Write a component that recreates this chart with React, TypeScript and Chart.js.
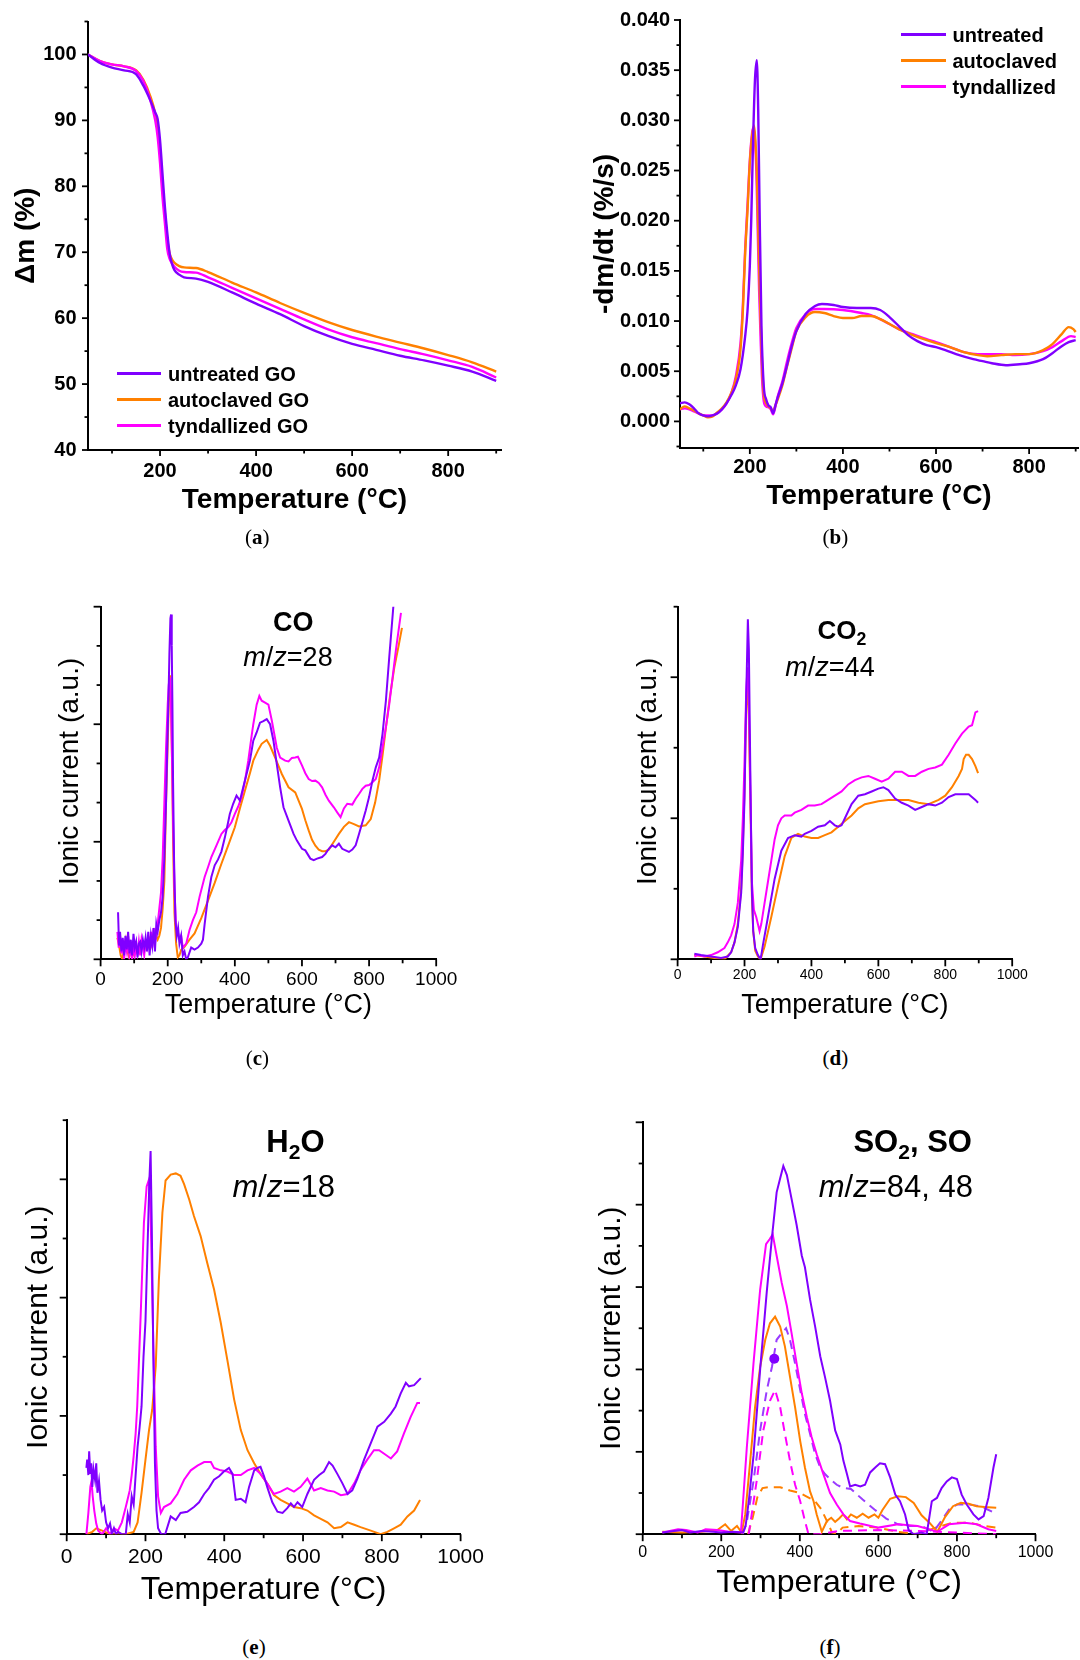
import React, { useEffect, useRef } from "react";
import { Chart, registerables } from "chart.js";
Chart.register(...registerables);

const PURPLE = "#8000ff";
const ORANGE = "#ff8000";
const MAGENTA = "#ff00ff";
const SANS = "'Liberation Sans', Arial, Helvetica, sans-serif";
const SERIF = "'Liberation Serif', 'Times New Roman', serif";

// ---------- (a) TGA ----------
const tgaTemp = [50, 75, 100, 125, 150, 165, 180, 190, 195, 200, 205, 210, 215, 220, 225, 230, 240, 250, 275, 300, 350, 400, 450, 500, 550, 600, 650, 700, 750, 800, 850, 900];
const tgaUntreated = [100, 98.7, 98.0, 97.6, 97.0, 95.3, 93.0, 91.2, 90.2, 87.0, 82.0, 77.0, 73.0, 69.8, 68.2, 67.3, 66.6, 66.2, 66.0, 65.5, 63.9, 62.2, 60.6, 58.8, 57.3, 56.1, 55.2, 54.3, 53.6, 52.8, 51.9, 50.5];
const tgaAutoclaved = [100, 99.0, 98.5, 98.2, 97.6, 96.2, 93.6, 91.0, 88.5, 85.0, 80.0, 76.0, 72.0, 69.8, 68.9, 68.4, 67.9, 67.7, 67.6, 67.0, 65.4, 63.9, 62.3, 60.8, 59.4, 58.2, 57.2, 56.3, 55.4, 54.4, 53.3, 51.9];
const tgaTyndallized = [100, 99.0, 98.5, 98.2, 97.5, 96.0, 93.0, 90.0, 87.5, 83.5, 78.5, 74.5, 70.5, 69.0, 68.3, 67.8, 67.2, 67.0, 66.9, 66.2, 64.6, 63.0, 61.4, 59.8, 58.3, 57.1, 56.2, 55.3, 54.5, 53.6, 52.6, 51.0];
const tgaLegend = ["untreated GO", "autoclaved GO", "tyndallized GO"];

// ---------- (b) DTG ----------
const dtgUntreated = [[50,0.0018],[60,0.0019],[70,0.0017],[80,0.0013],[90,0.0008],[100,0.0006],[110,0.0005],[120,0.0006],[130,0.0008],[140,0.0012],[150,0.0018],[160,0.0026],[170,0.0036],[180,0.0052],[190,0.0085],[195,0.011],[200,0.0155],[203,0.02],[207,0.028],[211,0.034],[215,0.036],[218,0.031],[221,0.021],[225,0.0095],[230,0.0035],[235,0.0022],[240,0.0016],[245,0.0014],[250,0.0008],[255,0.0016],[260,0.0024],[270,0.0038],[280,0.0056],[290,0.0075],[300,0.009],[320,0.0107],[340,0.0115],[355,0.0117],[380,0.0116],[400,0.0114],[430,0.0113],[460,0.0113],[480,0.0111],[500,0.0104],[520,0.0095],[540,0.0086],[560,0.008],[580,0.0076],[600,0.0074],[620,0.0071],[650,0.0066],[680,0.0062],[700,0.006],[720,0.0058],[750,0.0056],[780,0.0057],[800,0.0058],[830,0.0062],[850,0.0068],[870,0.0075],[885,0.0079],[900,0.0081]];
const dtgAutoclaved = [[50,0.0012],[60,0.0015],[70,0.0013],[80,0.0011],[90,0.0008],[100,0.0006],[110,0.0004],[120,0.0005],[130,0.0009],[140,0.0013],[150,0.0019],[160,0.0028],[170,0.0042],[180,0.0072],[185,0.011],[190,0.0168],[195,0.021],[200,0.0258],[205,0.0285],[209,0.0295],[212,0.028],[215,0.025],[218,0.019],[221,0.0135],[224,0.009],[227,0.005],[230,0.0027],[235,0.0018],[240,0.0015],[245,0.0013],[250,0.001],[255,0.0016],[260,0.0022],[270,0.0036],[280,0.0055],[290,0.0073],[300,0.009],[320,0.0104],[340,0.0109],[360,0.0108],[380,0.0105],[400,0.0103],[420,0.0103],[440,0.0105],[460,0.0105],[480,0.0102],[500,0.0097],[520,0.0092],[550,0.0086],[580,0.0081],[600,0.0078],[630,0.0074],[660,0.0069],[690,0.0066],[710,0.0065],[740,0.0066],[770,0.0067],[800,0.0067],[830,0.0071],[850,0.0077],[870,0.0087],[885,0.0094],[895,0.0092],[900,0.0089]];
const dtgTyndallized = [[50,0.0012],[60,0.0013],[70,0.0012],[80,0.001],[90,0.0008],[100,0.0006],[120,0.0006],[140,0.0012],[150,0.0018],[160,0.0028],[170,0.0045],[180,0.0078],[185,0.0115],[190,0.0172],[195,0.0215],[200,0.026],[205,0.0288],[208,0.0293],[211,0.028],[214,0.025],[217,0.019],[220,0.013],[223,0.0085],[226,0.0045],[230,0.002],[235,0.0015],[240,0.0014],[245,0.0012],[250,0.0007],[255,0.0015],[260,0.0025],[270,0.004],[280,0.006],[290,0.0078],[300,0.0093],[320,0.0107],[340,0.0112],[360,0.0112],[400,0.0111],[440,0.0108],[460,0.0106],[480,0.0102],[500,0.0097],[520,0.0092],[550,0.0087],[580,0.0082],[600,0.0079],[630,0.0074],[660,0.0069],[690,0.0067],[710,0.0067],[740,0.0067],[770,0.0066],[800,0.0067],[830,0.007],[850,0.0074],[870,0.008],[890,0.0085],[900,0.0084]];
const dtgLegend = ["untreated", "autoclaved", "tyndallized"];

// ---------- (c) CO, m/z = 28 ----------
const coUntreated = [[52,1.2],[55,0.35],[58,0.7],[62,0.2],[66,0.55],[70,0.1],[74,0.6],[78,0.25],[82,0.7],[86,0.15],[90,0.5],[94,0.1],[98,0.65],[102,0.3],[106,0.45],[110,0.05],[114,0.4],[118,0.45],[122,0.2],[126,0.5],[130,0.3],[134,0.55],[138,0.2],[142,0.7],[146,0.1],[150,0.6],[154,0.35],[158,0.8],[162,0.2],[166,0.9],[170,0.7],[175,1.0],[180,1.2],[185,1.6],[190,2.6],[195,4.0],[199,5.5],[202,6.5],[205,7.8],[208,8.7],[210,8.8],[212,8.0],[214,6.5],[216,4.5],[219,2.5],[223,1.0],[227,0.6],[231,0.8],[235,0.4],[240,0.6],[245,0.1],[250,0.2],[255,0.0],[260,0.05],[270,0.3],[280,0.25],[290,0.3],[300,0.4],[305,0.5],[310,0.9],[320,1.6],[330,2.1],[340,2.4],[350,2.55],[360,2.75],[370,3.1],[380,3.5],[385,3.71],[395,3.97],[405,4.18],[415,4.05],[425,4.39],[435,4.73],[445,5.07],[455,5.58],[465,5.79],[475,6.04],[485,6.08],[495,6.13],[505,6.0],[515,5.58],[525,4.98],[535,4.39],[545,3.88],[560,3.54],[575,3.2],[585,3.03],[600,2.82],[610,2.78],[625,2.57],[635,2.53],[645,2.57],[660,2.61],[670,2.69],[680,2.82],[690,2.91],[700,2.86],[710,2.95],[720,2.82],[730,2.78],[740,2.74],[750,2.8],[760,2.91],[770,3.2],[780,3.5],[790,3.8],[800,4.14],[810,4.56],[820,4.9],[830,5.15],[840,5.75],[850,6.59],[860,7.7],[872,8.97],[880,9.8]];
const coAutoclaved = [[50,0.55],[55,0.35],[60,0.1],[65,0.0],[70,0.3],[75,0.5],[80,0.2],[85,0.05],[90,0.35],[95,0.2],[100,0.1],[105,0.3],[110,0.15],[115,0.35],[120,0.25],[125,0.4],[130,0.2],[135,0.45],[140,0.3],[145,0.5],[150,0.35],[155,0.55],[160,0.45],[165,0.6],[170,0.5],[175,0.6],[180,0.8],[185,1.3],[190,2.0],[195,4.0],[200,5.5],[204,6.8],[207,7.25],[210,6.5],[213,5.0],[216,3.0],[220,1.2],[225,0.4],[230,0.05],[235,0.1],[240,0.24],[250,0.32],[265,0.5],[280,0.66],[300,1.05],[320,1.5],[340,1.95],[360,2.44],[380,2.9],[400,3.37],[415,3.85],[430,4.3],[445,4.75],[455,5.07],[470,5.35],[480,5.5],[495,5.6],[505,5.45],[520,5.15],[540,4.73],[560,4.39],[580,4.26],[590,4.05],[600,3.84],[610,3.55],[620,3.29],[630,3.05],[640,2.9],[650,2.8],[660,2.76],[670,2.76],[680,2.8],[695,3.0],[710,3.2],[725,3.38],[740,3.5],[755,3.45],[770,3.39],[790,3.42],[805,3.58],[818,4.0],[830,4.56],[840,5.2],[850,5.9],[862,6.7],[875,7.44],[888,8.0],[898,8.46]];
const coTyndallized = [[50,0.7],[54,0.3],[58,0.6],[62,0.15],[66,0.5],[70,0.0],[74,0.4],[78,0.2],[82,0.6],[86,0.1],[90,0.3],[94,0.0],[98,0.4],[102,0.1],[106,0.35],[110,0.15],[114,0.45],[118,0.1],[122,0.5],[126,0.3],[130,0.1],[134,0.45],[138,0.3],[142,0.55],[146,0.35],[150,0.7],[154,0.3],[158,0.8],[162,0.4],[166,0.7],[170,0.9],[175,1.3],[180,1.7],[185,2.6],[190,4.0],[195,5.4],[200,6.5],[203,7.0],[206,7.2],[209,6.8],[212,5.5],[216,3.5],[220,1.8],[225,0.8],[230,0.7],[235,0.5],[240,0.6],[245,0.3],[250,0.35],[255,0.4],[265,0.75],[275,1.0],[285,1.2],[295,1.6],[310,2.1],[320,2.35],[330,2.61],[345,2.9],[360,3.2],[370,3.3],[380,3.37],[390,3.5],[400,3.71],[410,3.9],[420,4.14],[430,4.55],[440,5.07],[450,5.7],[455,6.0],[465,6.5],[473,6.72],[480,6.6],[490,6.55],[500,6.5],[510,6.1],[525,5.4],[535,5.15],[550,5.07],[560,5.05],[570,5.14],[580,5.15],[588,5.17],[600,4.95],[610,4.75],[620,4.6],[630,4.55],[640,4.56],[650,4.5],[660,4.39],[670,4.2],[680,4.05],[695,3.88],[705,3.75],[715,3.63],[725,3.85],[735,3.97],[750,3.95],[760,4.1],[770,4.22],[780,4.35],[790,4.43],[800,4.45],[810,4.52],[820,4.6],[830,4.9],[840,5.4],[850,5.92],[860,6.5],[870,7.19],[880,7.9],[895,8.84]];

// ---------- (d) CO2, m/z = 44 ----------
const co2Untreated = [[50,0.04],[70,0.03],[100,0.02],[130,0.01],[150,0.02],[160,0.05],[170,0.12],[180,0.23],[190,0.47],[195,0.75],[200,1.14],[205,1.85],[210,2.41],[213,2.2],[216,1.6],[219,1.0],[222,0.5],[226,0.2],[232,0.08],[240,0.03],[248,0.0],[255,0.1],[270,0.3],[290,0.57],[310,0.77],[330,0.86],[350,0.88],[370,0.87],[380,0.89],[400,0.91],[420,0.94],[440,0.95],[455,0.98],[470,0.95],[480,0.94],[490,0.95],[500,1.0],[520,1.1],[540,1.16],[560,1.17],[580,1.19],[600,1.21],[615,1.22],[630,1.2],[650,1.14],[670,1.11],[690,1.09],[710,1.06],[730,1.08],[750,1.1],[770,1.09],[790,1.11],[810,1.15],[830,1.17],[850,1.17],[870,1.17],[890,1.13],[898,1.11]];
const co2Autoclaved = [[50,0.03],[80,0.02],[110,0.01],[140,0.0],[160,0.05],[170,0.12],[180,0.25],[190,0.5],[195,0.8],[200,1.2],[205,1.8],[209,1.94],[213,1.7],[216,1.3],[219,0.9],[222,0.45],[226,0.2],[232,0.06],[240,0.02],[248,0.0],[260,0.09],[280,0.3],[300,0.52],[320,0.73],[340,0.86],[360,0.89],[380,0.87],[400,0.86],[420,0.86],[440,0.88],[460,0.9],[480,0.94],[500,0.98],[520,1.02],[540,1.07],[560,1.1],[600,1.12],[630,1.13],[660,1.13],[690,1.13],[720,1.11],[750,1.1],[780,1.13],[800,1.16],[820,1.22],[840,1.3],[850,1.35],[855,1.42],[862,1.45],[870,1.45],[880,1.42],[890,1.37],[898,1.32]];
const co2Tyndallized = [[50,0.02],[60,0.03],[80,0.02],[100,0.03],[120,0.05],[140,0.08],[150,0.12],[160,0.17],[170,0.25],[180,0.4],[190,0.7],[195,1.0],[200,1.4],[205,1.9],[209,2.07],[213,1.8],[216,1.4],[219,1.0],[222,0.55],[228,0.35],[235,0.3],[245,0.2],[250,0.25],[260,0.4],[270,0.55],[280,0.7],[290,0.85],[300,0.95],[310,1.0],[320,1.02],[340,1.02],[350,1.04],[370,1.06],[390,1.09],[410,1.09],[430,1.1],[450,1.13],[470,1.16],[490,1.19],[510,1.24],[530,1.27],[550,1.29],[570,1.3],[590,1.28],[610,1.26],[630,1.28],[650,1.33],[670,1.33],[690,1.3],[710,1.3],[730,1.33],[750,1.35],[770,1.36],[790,1.38],[810,1.45],[830,1.53],[850,1.6],[870,1.65],[880,1.66],[890,1.75],[898,1.76]];

// ---------- (e) H2O, m/z = 18 ----------
const h2oUntreated = [[50,0.56],[52,0.63],[55,0.5],[57,0.7],[60,0.51],[62,0.6],[65,0.4],[68,0.55],[72,0.46],[75,0.6],[78,0.35],[82,0.45],[86,0.29],[90,0.2],[95,0.23],[100,0.1],[105,0.05],[110,0.09],[115,0.0],[120,0.05],[125,0.0],[130,0.02],[140,0.0],[150,0.0],[155,0.17],[160,0.1],[165,0.32],[170,0.25],[175,0.5],[180,0.74],[185,0.9],[190,1.08],[195,1.5],[200,1.8],[205,2.4],[210,3.0],[213,3.24],[216,2.6],[220,1.5],[224,0.6],[228,0.2],[232,0.05],[240,0.0],[250,0.0],[264,0.15],[277,0.12],[289,0.18],[306,0.19],[323,0.23],[336,0.27],[349,0.34],[361,0.39],[374,0.46],[387,0.49],[399,0.53],[412,0.56],[421,0.51],[429,0.29],[442,0.3],[454,0.27],[463,0.4],[476,0.54],[484,0.56],[492,0.57],[501,0.49],[509,0.4],[522,0.27],[535,0.19],[548,0.18],[560,0.22],[569,0.26],[577,0.23],[586,0.27],[598,0.23],[611,0.34],[628,0.46],[641,0.5],[653,0.53],[666,0.61],[675,0.58],[687,0.51],[700,0.43],[713,0.34],[725,0.37],[738,0.47],[755,0.63],[772,0.77],[789,0.91],[806,0.95],[823,1.02],[835,1.08],[848,1.19],[861,1.28],[869,1.25],[882,1.26],[899,1.32]];
const h2oAutoclaved = [[50,0.0],[65,0.02],[75,0.05],[90,0.03],[110,0.0],[150,0.0],[170,0.02],[180,0.1],[190,0.35],[200,0.63],[209,0.88],[217,1.05],[226,1.42],[234,2.15],[243,2.72],[251,2.99],[264,3.04],[277,3.05],[289,3.03],[298,2.96],[311,2.83],[323,2.69],[340,2.52],[357,2.29],[374,2.07],[391,1.79],[408,1.47],[425,1.14],[442,0.88],[459,0.71],[476,0.6],[492,0.51],[509,0.43],[526,0.33],[543,0.29],[560,0.26],[577,0.23],[594,0.22],[611,0.2],[628,0.16],[645,0.13],[662,0.1],[679,0.05],[696,0.06],[713,0.1],[730,0.08],[746,0.06],[772,0.03],[797,0.0],[814,0.02],[831,0.05],[848,0.08],[865,0.15],[882,0.2],[897,0.29]];
const h2oTyndallized = [[50,0.0],[55,0.18],[60,0.4],[63,0.45],[66,0.32],[70,0.2],[75,0.09],[80,0.03],[90,0.0],[100,0.05],[110,0.0],[120,0.05],[130,0.03],[140,0.1],[150,0.23],[155,0.3],[160,0.37],[165,0.5],[170,0.66],[175,0.85],[179,1.08],[188,1.87],[196,2.63],[203,2.94],[209,3.0],[213,2.7],[220,1.59],[226,0.74],[232,0.32],[239,0.18],[247,0.23],[264,0.26],[281,0.34],[298,0.46],[315,0.54],[332,0.58],[349,0.61],[366,0.61],[374,0.56],[391,0.54],[408,0.53],[425,0.5],[442,0.5],[459,0.54],[476,0.56],[492,0.51],[509,0.43],[526,0.34],[543,0.36],[560,0.39],[577,0.36],[594,0.4],[611,0.47],[628,0.37],[645,0.39],[662,0.37],[679,0.36],[696,0.33],[713,0.34],[730,0.43],[746,0.54],[763,0.63],[780,0.71],[793,0.71],[806,0.68],[823,0.64],[839,0.7],[856,0.85],[873,0.99],[890,1.11],[897,1.11]];

// ---------- (f) SO2 (m/z = 84, solid) and SO (m/z = 48, dashed) ----------
const so2Untreated = [[50,0.02],[80,0.04],[100,0.05],[120,0.02],[150,0.04],[180,0.03],[200,0.02],[230,0.03],[255,0.02],[262,0.1],[270,0.4],[282,0.95],[299,2.0],[316,2.95],[329,3.6],[341,4.15],[350,4.32],[358,4.47],[367,4.36],[379,4.07],[392,3.75],[405,3.38],[413,3.24],[426,2.85],[439,2.52],[452,2.16],[464,1.91],[477,1.62],[490,1.26],[503,1.09],[511,0.89],[520,0.73],[528,0.58],[541,0.6],[554,0.58],[566,0.6],[579,0.75],[592,0.81],[604,0.86],[617,0.85],[630,0.69],[643,0.48],[655,0.4],[668,0.24],[677,0.05],[690,0.0],[710,0.02],[723,0.0],[736,0.4],[749,0.44],[761,0.56],[774,0.64],[787,0.69],[800,0.67],[812,0.48],[825,0.36],[842,0.24],[855,0.18],[868,0.22],[880,0.44],[893,0.81],[900,0.97]];
const so2Autoclaved = [[50,0.03],[100,0.02],[150,0.03],[190,0.05],[210,0.12],[225,0.04],[240,0.1],[252,0.02],[261,0.24],[273,0.85],[286,1.54],[299,2.03],[312,2.36],[324,2.56],[337,2.64],[350,2.52],[362,2.28],[375,1.91],[388,1.54],[401,1.13],[413,0.81],[426,0.52],[435,0.4],[443,0.24],[456,0.03],[469,0.16],[480,0.2],[490,0.15],[500,0.19],[510,0.24],[520,0.18],[530,0.24],[545,0.2],[560,0.25],[575,0.2],[590,0.24],[600,0.2],[610,0.29],[630,0.43],[650,0.46],[670,0.45],[690,0.38],[710,0.23],[730,0.14],[750,0.03],[770,0.21],[790,0.34],[810,0.38],[830,0.37],[850,0.34],[870,0.33],[900,0.32]];
const so2Tyndallized = [[50,0.02],[90,0.06],[110,0.05],[140,0.02],[160,0.06],[190,0.05],[220,0.03],[250,0.02],[265,1.05],[282,2.07],[299,2.97],[314,3.52],[323,3.58],[331,3.64],[341,3.38],[354,3.05],[367,2.77],[379,2.44],[392,2.07],[405,1.71],[418,1.42],[430,1.18],[443,0.97],[460,0.73],[477,0.5],[494,0.36],[511,0.24],[528,0.16],[553,0.13],[600,0.08],[650,0.12],[700,0.1],[750,0.03],[780,0.12],[820,0.14],[850,0.12],[880,0.06],[900,0.04]];
const soUntreated = [[255,0.0],[265,0.15],[282,0.64],[299,1.26],[316,1.75],[329,2.03],[341,2.36],[354,2.44],[365,2.5],[375,2.36],[388,2.07],[401,1.75],[413,1.46],[426,1.22],[439,0.97],[452,0.81],[464,0.73],[477,0.67],[494,0.6],[511,0.56],[530,0.55],[560,0.42],[590,0.3],[620,0.19],[650,0.12],[680,0.1],[710,0.1],[740,0.03],[760,0.16],[780,0.3],[800,0.36],[830,0.36],[860,0.34],[900,0.25]];
const soAutoclaved = [[268,0.0],[280,0.2],[292,0.45],[305,0.56],[320,0.57],[350,0.57],[375,0.53],[400,0.5],[420,0.45],[439,0.4],[455,0.3],[470,0.15],[482,0.02],[495,0.01],[509,0.08],[550,0.1],[596,0.08],[649,0.03],[700,0.0],[746,0.08],[789,0.14],[833,0.14],[868,0.1],[900,0.08]];
const soTyndallized = [[270,0.0],[290,0.64],[307,1.26],[324,1.62],[337,1.75],[350,1.54],[362,1.22],[375,0.89],[388,0.6],[401,0.4],[413,0.16],[422,0.0],[450,0.0],[500,0.04],[600,0.05],[700,0.04],[800,0.02],[900,0.0]];
const soMarker = [[335, 2.13]];

// ---------- tick labels ----------
const tempLabelsAB = [200, 400, 600, 800];
const tempMinorAB = [100, 300, 500, 700, 900];
const tempLabelsMS = [0, 200, 400, 600, 800, 1000];
const tempMinorMS = [100, 300, 500, 700, 900];
const massLabels = [40, 50, 60, 70, 80, 90, 100];
const massMinor = [45, 55, 65, 75, 85, 95, 105];
const dtgLabels = [0, 0.005, 0.01, 0.015, 0.02, 0.025, 0.03, 0.035, 0.04];
const dtgMinor = [-0.0025, 0.0025, 0.0075, 0.0125, 0.0175, 0.0225, 0.0275, 0.0325, 0.0375];

const pairs = (arr: number[][]) => arr.map(([x, y]) => ({ x, y }));
const zip = (xs: number[], ys: number[]) => xs.map((x, i) => ({ x, y: ys[i] }));

type Series = { data: { x: number; y: number }[]; color: string; dash?: number[]; smooth?: boolean; width?: number; marker?: number };
type AxisSpec = {
  min: number; max: number; labels: number[]; showLabels: boolean; major: number[]; minor: number[];
  fmt?: (v: number) => string; tickFont?: any; tickPad?: number; title: string; titleFont: any; titlePad: number;
};
type PanelSpec = {
  box: { x: number; y: number; w: number; h: number };
  area: { l: number; t: number; r: number; b: number };
  xAxis: AxisSpec; yAxis: AxisSpec; series: Series[]; majorLen: number; minorLen: number;
};

function Panel({ spec }: { spec: PanelSpec }) {
  const ref = useRef<HTMLCanvasElement>(null);
  useEffect(() => {
    const { box, area, xAxis, yAxis, series, majorLen, minorLen } = spec;
    const tickPlugin = {
      id: "originTicks",
      afterDraw(chart: any) {
        const { ctx, chartArea: ca } = chart;
        const sx = chart.scales.x;
        const sy = chart.scales.y;
        ctx.save();
        ctx.strokeStyle = "#000";
        ctx.lineWidth = 1.8;
        const dx = (v: number, len: number) => {
          const p = sx.getPixelForValue(v);
          ctx.beginPath(); ctx.moveTo(p, ca.bottom); ctx.lineTo(p, ca.bottom + len); ctx.stroke();
        };
        const dy = (v: number, len: number) => {
          const p = sy.getPixelForValue(v);
          ctx.beginPath(); ctx.moveTo(ca.left, p); ctx.lineTo(ca.left - len, p); ctx.stroke();
        };
        xAxis.major.forEach((v) => dx(v, majorLen));
        xAxis.minor.forEach((v) => dx(v, minorLen));
        yAxis.major.forEach((v) => dy(v, majorLen));
        yAxis.minor.forEach((v) => dy(v, minorLen));
        ctx.restore();
      },
    };
    const mkScale = (ax: AxisSpec, isX: boolean) => ({
      type: "linear",
      min: ax.min,
      max: ax.max,
      afterFit: (s: any) => {
        if (isX) s.height = box.y + box.h - area.b;
        else s.width = area.l - box.x;
      },
      afterBuildTicks: (s: any) => {
        s.ticks = ax.labels.map((v) => ({ value: v }));
      },
      grid: { display: false, drawTicks: false, drawOnChartArea: false },
      border: { display: true, color: "#000", width: 2 },
      ticks: {
        display: ax.showLabels,
        autoSkip: false,
        maxRotation: 0,
        minRotation: 0,
        padding: ax.tickPad ?? 0,
        color: "#000",
        font: ax.tickFont,
        callback: (v: any) => (ax.fmt ? ax.fmt(Number(v)) : String(v)),
      },
      title: {
        display: true,
        text: ax.title,
        color: "#000",
        font: ax.titleFont,
        padding: { top: ax.titlePad, bottom: ax.titlePad },
      },
    });
    const chart = new Chart(ref.current as HTMLCanvasElement, {
      type: "scatter",
      data: {
        datasets: series.map((s) => ({
          data: s.data,
          borderColor: s.color,
          backgroundColor: s.color,
          borderWidth: s.width ?? 2,
          borderDash: s.dash || [],
          pointRadius: s.marker ? s.marker : 0,
          pointBorderWidth: 0,
          showLine: !s.marker,
          tension: s.smooth ? 0.4 : 0,
          cubicInterpolationMode: s.smooth ? "monotone" : "default",
          fill: false,
        })),
      },
      options: {
        animation: false,
        responsive: false,
        devicePixelRatio: 1,
        events: [],
        layout: {
          autoPadding: false,
          padding: { left: 0, top: area.t - box.y, right: box.x + box.w - area.r, bottom: 0 },
        },
        plugins: { legend: { display: false }, tooltip: { enabled: false } },
        scales: { x: mkScale(xAxis, true), y: mkScale(yAxis, false) },
      } as any,
      plugins: [tickPlugin as any],
    });
    return () => chart.destroy();
  }, []);
  return (
    <canvas
      ref={ref}
      width={spec.box.w}
      height={spec.box.h}
      style={{ position: "absolute", left: spec.box.x, top: spec.box.y, width: spec.box.w, height: spec.box.h }}
    />
  );
}

const bold = (size: number) => ({ family: SANS, size, weight: "bold", lineHeight: 1 });
const reg = (size: number) => ({ family: SANS, size, weight: "normal", lineHeight: 1 });
const ionic = "Ionic current (a.u.)";
const ionicRaised = "   Ionic current (a.u.)";
const tempTitle = "Temperature (°C)";

const panelA: PanelSpec = {
  box: { x: 0, y: 0, w: 540, h: 520 },
  area: { l: 88, t: 16, r: 501, b: 450 },
  majorLen: 6, minorLen: 3.5,
  xAxis: { min: 50, max: 910, labels: tempLabelsAB, showLabels: true, major: tempLabelsAB, minor: tempMinorAB, tickFont: bold(20), tickPad: 11, title: tempTitle, titleFont: bold(28), titlePad: 6 },
  yAxis: { min: 40, max: 105, labels: massLabels, showLabels: true, major: massLabels, minor: massMinor, tickFont: bold(20), tickPad: 11.5, title: "Δm (%)", titleFont: bold(28), titlePad: 12.5 },
  series: [
    { data: zip(tgaTemp, tgaUntreated), color: PURPLE, smooth: true, width: 2.4 },
    { data: zip(tgaTemp, tgaTyndallized), color: MAGENTA, smooth: true, width: 2.4 },
    { data: zip(tgaTemp, tgaAutoclaved), color: ORANGE, smooth: true, width: 2.4 },
  ],
};

const panelB: PanelSpec = {
  box: { x: 540, y: 0, w: 540, h: 520 },
  area: { l: 680, t: 19, r: 1078, b: 448 },
  majorLen: 6, minorLen: 3.5,
  xAxis: { min: 50, max: 905, labels: tempLabelsAB, showLabels: true, major: tempLabelsAB, minor: tempMinorAB, tickFont: bold(20), tickPad: 9, title: tempTitle, titleFont: bold(28), titlePad: 9.4 },
  yAxis: { min: -0.00265, max: 0.04, labels: dtgLabels, showLabels: true, major: dtgLabels, minor: dtgMinor, fmt: (v) => v.toFixed(3), tickFont: bold(20), tickPad: 10, title: "-dm/dt (%/s)", titleFont: bold(28), titlePad: 51.6 },
  series: [
    { data: pairs(dtgUntreated), color: PURPLE, smooth: true, width: 2.4 },
    { data: pairs(dtgAutoclaved), color: ORANGE, smooth: true, width: 2.4 },
    { data: pairs(dtgTyndallized), color: MAGENTA, smooth: true, width: 2.4 },
  ],
};

const panelC: PanelSpec = {
  box: { x: 0, y: 560, w: 540, h: 480 },
  area: { l: 100.6, t: 606.7, r: 436.2, b: 959.3 },
  majorLen: 7, minorLen: 4,
  xAxis: { min: 0, max: 1000, labels: tempLabelsMS, showLabels: true, major: tempLabelsMS, minor: tempMinorMS, tickFont: reg(19), tickPad: 10.6, title: tempTitle, titleFont: reg(27), titlePad: 20.6 },
  yAxis: { min: 0, max: 9, labels: [0, 3, 6, 9], showLabels: false, major: [0, 3, 6, 9], minor: [1, 2, 4, 5, 7, 8], title: ionicRaised, titleFont: reg(28), titlePad: 56.5 },
  series: [
    { data: pairs(coUntreated), color: PURPLE },
    { data: pairs(coTyndallized), color: MAGENTA },
    { data: pairs(coAutoclaved), color: ORANGE },
  ],
};

const panelD: PanelSpec = {
  box: { x: 540, y: 560, w: 540, h: 480 },
  area: { l: 677.6, t: 606.7, r: 1012.2, b: 959.3 },
  majorLen: 7, minorLen: 4,
  xAxis: { min: 0, max: 1000, labels: tempLabelsMS, showLabels: true, major: tempLabelsMS, minor: tempMinorMS, tickFont: reg(14), tickPad: 8.7, title: tempTitle, titleFont: reg(27), titlePad: 20.6 },
  yAxis: { min: 0, max: 2.5, labels: [0, 1, 2], showLabels: false, major: [0, 1, 2], minor: [0.5, 1.5, 2.5], title: ionicRaised, titleFont: reg(28), titlePad: 94 },
  series: [
    { data: pairs(co2Untreated), color: PURPLE },
    { data: pairs(co2Tyndallized), color: MAGENTA },
    { data: pairs(co2Autoclaved), color: ORANGE },
  ],
};

const panelE: PanelSpec = {
  box: { x: 0, y: 1080, w: 540, h: 540 },
  area: { l: 66.7, t: 1120.2, r: 460.6, b: 1534.2 },
  majorLen: 7, minorLen: 4,
  xAxis: { min: 0, max: 1000, labels: tempLabelsMS, showLabels: true, major: tempLabelsMS, minor: tempMinorMS, tickFont: reg(21), tickPad: 12.8, title: tempTitle, titleFont: reg(32), titlePad: 14 },
  yAxis: { min: 0, max: 3.5, labels: [0, 1, 2, 3], showLabels: false, major: [0, 1, 2, 3], minor: [0.5, 1.5, 2.5, 3.5], title: ionic, titleFont: reg(30), titlePad: 24.2 },
  series: [
    { data: pairs(h2oUntreated), color: PURPLE },
    { data: pairs(h2oTyndallized), color: MAGENTA },
    { data: pairs(h2oAutoclaved), color: ORANGE },
  ],
};

const panelF: PanelSpec = {
  box: { x: 540, y: 1080, w: 540, h: 540 },
  area: { l: 642.7, t: 1122.3, r: 1035.5, b: 1534.2 },
  majorLen: 7, minorLen: 4,
  xAxis: { min: 0, max: 1000, labels: tempLabelsMS, showLabels: true, major: tempLabelsMS, minor: tempMinorMS, tickFont: reg(16), tickPad: 10.8, title: tempTitle, titleFont: reg(32), titlePad: 21 },
  yAxis: { min: 0, max: 5, labels: [0, 1, 2, 3, 4, 5], showLabels: false, major: [0, 1, 2, 3, 4, 5], minor: [0.5, 1.5, 2.5, 3.5, 4.5], title: ionic, titleFont: reg(30), titlePad: 57 },
  series: [
    { data: pairs(soMarker), color: PURPLE, marker: 5 },
    { data: pairs(so2Untreated), color: PURPLE },
    { data: pairs(so2Tyndallized), color: MAGENTA },
    { data: pairs(so2Autoclaved), color: ORANGE },
    { data: pairs(soUntreated), color: "#9a3cff", dash: [9, 6] },
    { data: pairs(soTyndallized), color: MAGENTA, dash: [9, 6] },
    { data: pairs(soAutoclaved), color: ORANGE, dash: [9, 6] },
  ],
};

function Legend({ x, y, gap, names, lineW }: { x: number; y: number; gap: number; names: string[]; lineW: number }) {
  const colors = [PURPLE, ORANGE, MAGENTA];
  return (
    <>
      {names.map((n, i) => (
        <React.Fragment key={n}>
          <div style={{ position: "absolute", left: x, top: y + i * gap - 1.5, width: lineW, height: 3, background: colors[i] }} />
          <div style={{ position: "absolute", left: x + lineW + 7, top: y + i * gap - 12, lineHeight: "24px", fontSize: 20, fontWeight: 700, fontFamily: SANS, color: "#000", whiteSpace: "nowrap" }}>{n}</div>
        </React.Fragment>
      ))}
    </>
  );
}

function Label({ x, y, size, bold: b, children }: any) {
  return (
    <div style={{ position: "absolute", left: x, top: y, transform: "translate(-50%, -50%)", fontSize: size, fontWeight: b ? 700 : 400, lineHeight: 1, whiteSpace: "nowrap", fontFamily: SANS, color: "#000" }}>
      {children}
    </div>
  );
}

const Sub = ({ children }: any) => (
  <span style={{ fontSize: "0.68em", position: "relative", top: "0.32em" }}>{children}</span>
);

function Caption({ x, y, letter }: { x: number; y: number; letter: string }) {
  return (
    <div style={{ position: "absolute", left: x, top: y, transform: "translate(-50%, -50%)", fontSize: 21, lineHeight: 1, fontFamily: SERIF, color: "#000" }}>
      (<b>{letter}</b>)
    </div>
  );
}

export default function App() {
  return (
    <div style={{ position: "absolute", left: 0, top: 0, width: 1080, height: 1660, background: "#fff", overflow: "hidden" }}>
      <Panel spec={panelA} />
      <Panel spec={panelB} />
      <Panel spec={panelC} />
      <Panel spec={panelD} />
      <Panel spec={panelE} />
      <Panel spec={panelF} />

      <Legend x={116.5} y={373.7} gap={25.9} names={tgaLegend} lineW={44.5} />
      <Legend x={901} y={34.9} gap={25.9} names={dtgLegend} lineW={44.5} />

      <Label x={293.3} y={621.5} size={27} bold>CO</Label>
      <Label x={288} y={656.5} size={27}><i>m</i>/<i>z</i>=28</Label>

      <Label x={841.8} y={630} size={26} bold>CO<Sub>2</Sub></Label>
      <Label x={830} y={667} size={27}><i>m</i>/<i>z</i>=44</Label>

      <Label x={295.4} y={1141.4} size={31} bold>H<Sub>2</Sub>O</Label>
      <Label x={283.8} y={1185.9} size={31}><i>m</i>/<i>z</i>=18</Label>

      <Label x={912.7} y={1141.4} size={31} bold>SO<Sub>2</Sub>, SO</Label>
      <Label x={895.8} y={1185.9} size={31}><i>m</i>/<i>z</i>=84, 48</Label>

      <Caption x={257.3} y={536.8} letter="a" />
      <Caption x={835.4} y={536.8} letter="b" />
      <Caption x={257.3} y={1057.8} letter="c" />
      <Caption x={835.4} y={1057.8} letter="d" />
      <Caption x={254} y={1646.5} letter="e" />
      <Caption x={830} y={1646.5} letter="f" />
    </div>
  );
}
